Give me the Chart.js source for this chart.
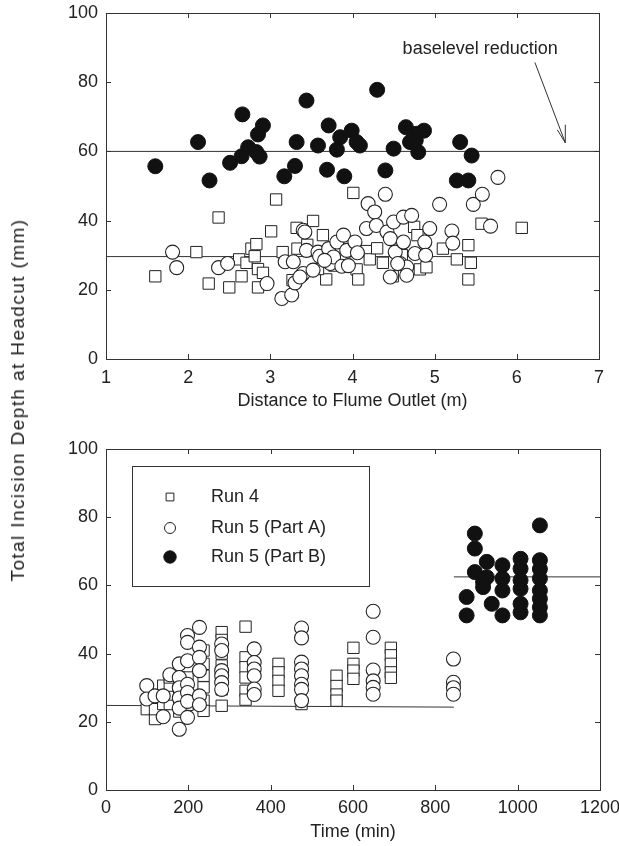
<!DOCTYPE html>
<html>
<head>
<meta charset="utf-8">
<script src="https://cdn.jsdelivr.net/npm/chart.js@4.4.0/dist/chart.umd.min.js"></script>
<style>
  body { margin: 0; background: #fff; width: 619px; height: 846px; position: relative; overflow: hidden; font-family: Arial, "Liberation Sans", sans-serif; }
  #topChart { position: absolute; left: 0; top: 0; }
  #bottomChart { position: absolute; left: 0; top: 420px; }
  #ylab { position: absolute; left: 18px; top: 400px; transform: translate(-50%, -50%) rotate(-90deg); white-space: nowrap; font-size: 19px; letter-spacing: 1.4px; color: #222; }
</style>
</head>
<body>
<canvas id="topChart" width="619" height="420"></canvas>
<canvas id="bottomChart" width="619" height="426"></canvas>
<div id="ylab">Total Incision Depth at Headcut (mm)</div>
<script>
// --- top panel: depth vs distance to flume outlet ---
var distTicks = [1, 2, 3, 4, 5, 6, 7];
var depthTicks = [0, 20, 40, 60, 80, 100];

var run4Dist = [1.60, 2.10, 2.37, 2.25, 2.50, 2.65, 2.62, 2.71, 2.77, 2.83, 2.81, 2.85, 2.91, 2.85, 3.01, 3.07, 3.15, 3.32, 3.33, 3.27,
  3.52, 4.01, 3.64, 3.68, 4.05, 4.07, 4.17, 4.21, 4.37, 4.49, 4.75, 4.79, 4.82, 4.90, 5.10, 5.27, 5.41, 5.44, 5.41, 5.57,
  6.06, 3.90, 3.78, 4.30, 4.60, 3.45, 3.58];
var run4DistDepth = [23.9, 30.9, 40.9, 21.8, 20.7, 23.9, 28.8, 27.8, 31.9, 33.2, 29.7, 26.0, 24.9, 20.7, 36.9, 46.1, 30.9, 37.9, 31.9, 22.8,
  39.9, 48.0, 35.8, 23.0, 25.9, 23.0, 31.2, 28.8, 27.8, 23.9, 38.2, 35.8, 25.9, 26.5, 31.9, 28.8, 32.9, 27.8, 23.0, 39.1,
  37.9, 29.0, 27.0, 32.0, 30.0, 33.0, 26.0];

var run5aDist = [1.81, 1.86, 2.37, 2.48, 2.96, 3.14, 3.26, 3.30, 3.38, 3.18, 3.28, 3.40, 3.44, 3.42, 3.40, 3.52, 3.58, 3.60, 3.71, 3.73,
  3.77, 3.81, 3.87, 3.89, 3.93, 4.03, 4.06, 4.17, 4.19, 4.27, 4.29, 4.40, 4.42, 4.46, 4.50, 4.52, 4.58, 4.62, 4.62, 4.66,
  4.72, 4.76, 4.88, 4.89, 4.94, 5.06, 5.21, 5.22, 5.47, 5.58, 5.68, 5.77, 4.46, 4.66, 4.55, 3.36, 3.66, 3.95];
var run5aDistDepth = [30.9, 26.4, 26.4, 27.6, 21.8, 17.5, 18.5, 22.0, 24.2, 28.1, 28.1, 37.2, 31.4, 36.7, 24.7, 25.7, 30.9, 29.7, 31.9, 27.6,
  29.5, 33.8, 26.8, 35.8, 31.4, 33.8, 30.7, 37.7, 44.9, 42.5, 38.6, 47.6, 36.7, 34.8, 39.6, 30.9, 27.6, 41.0, 33.8, 26.6,
  41.5, 30.5, 33.8, 30.0, 37.7, 44.7, 37.0, 33.5, 44.7, 47.6, 38.4, 52.5, 23.7, 24.2, 27.6, 23.7, 28.5, 27.0];

var run5bDist = [1.60, 2.12, 2.26, 2.51, 2.66, 2.65, 2.73, 2.83, 2.87, 2.85, 2.91, 3.17, 3.30, 3.32, 3.44, 3.58, 3.71, 3.69, 3.85, 3.81,
  3.90, 3.99, 4.05, 4.09, 4.30, 4.40, 4.50, 4.65, 4.70, 4.78, 4.87, 4.80, 4.77, 5.31, 5.45, 5.27, 5.41];
var run5bDistDepth = [55.7, 62.7, 51.6, 56.7, 70.7, 58.6, 61.2, 59.8, 58.5, 64.9, 67.5, 52.8, 55.8, 62.7, 74.7, 61.7, 67.5, 54.7, 64.1, 60.5,
  52.8, 66.0, 62.7, 61.7, 77.8, 54.5, 60.8, 67.0, 62.7, 65.1, 66.0, 59.8, 63.2, 62.7, 58.8, 51.6, 51.6];

var distFitX = [1, 7];
var distFitHigh = [60, 60];
var distFitLow = [29.6, 29.6];

// --- bottom panel: depth vs time ---
var timeTicks = [0, 200, 400, 600, 800, 1000, 1200];

var run4Time = [99, 119, 119, 139, 139, 155, 155, 155, 155, 178, 178, 178, 178, 198, 198, 198,
  237, 237, 237, 237, 237, 237, 281, 281, 281, 281, 281, 281, 281, 339, 339, 339, 339, 339, 339,
  419, 419, 419, 419, 475, 475, 475, 475, 560, 560, 560, 560, 601, 601, 601, 601, 692, 692, 692, 692, 692];
var run4TimeDepth = [23.7, 20.8, 23.7, 30.6, 25.2, 25.2, 28.0, 30.6, 33.0, 33.0, 29.0, 26.0, 23.0, 33.0, 29.1, 25.0,
  40.9, 37.0, 33.5, 30.1, 26.2, 23.2, 46.3, 44.0, 40.0, 36.5, 33.0, 29.5, 24.7, 47.9, 38.9, 36.0, 33.0, 29.1, 26.5,
  37.0, 34.5, 32.0, 29.1, 37.0, 33.0, 30.0, 25.2, 33.5, 30.5, 28.0, 26.2, 41.7, 37.0, 35.0, 32.6, 41.7, 39.5, 37.0, 34.5, 32.9];

var run5aTime = [99, 99, 119, 139, 139, 155, 178, 178, 178, 178, 178, 178, 198, 198, 198, 198, 198, 198, 198,
  227, 227, 227, 227, 227, 227, 281, 281, 281, 281, 281, 281, 360, 360, 360, 360, 360, 360,
  475, 475, 475, 475, 475, 475, 475, 475, 649, 649, 649, 649, 649, 649, 844, 844, 844, 844];
var run5aTimeDepth = [30.6, 26.7, 27.6, 27.6, 21.5, 33.8, 37.0, 33.0, 30.0, 27.0, 24.0, 17.8, 45.3, 43.3, 37.9, 31.0, 28.6, 26.0, 21.3,
  47.7, 41.9, 38.9, 35.0, 27.6, 25.0, 42.8, 40.9, 35.0, 33.5, 31.5, 29.5, 41.4, 37.4, 35.5, 33.5, 29.6, 28.0,
  47.5, 44.6, 37.5, 35.5, 33.5, 31.0, 29.5, 26.2, 52.4, 44.8, 35.2, 32.0, 30.1, 28.1, 38.4, 31.6, 30.0, 28.1];

var run5bTime = [876, 876, 896, 896, 896, 916, 916, 925, 925, 937, 963, 963, 963, 963,
  1007, 1007, 1007, 1007, 1007, 1007, 1054, 1054, 1054, 1054, 1054, 1054, 1054, 1054];
var run5bTimeDepth = [56.6, 51.2, 75.2, 70.8, 63.9, 61.0, 59.5, 66.9, 62.4, 54.6, 65.9, 62.0, 58.5, 51.2,
  67.8, 64.9, 61.5, 59.0, 54.6, 52.1, 77.6, 67.4, 64.8, 62.0, 58.5, 56.1, 53.6, 51.2];

var timeFitAX = [0, 845];
var timeFitAY = [24.8, 24.3];
var timeFitBX = [845, 1200];
var timeFitBY = [62.5, 62.5];

var seriesNames = ['Run 4', 'Run 5 (Part A)', 'Run 5 (Part B)'];

function pts(xs, ys) {
  var out = [];
  for (var i = 0; i < xs.length; i++) out.push({ x: xs[i], y: ys[i] });
  return out;
}

var ink = '#222';
var fontSpec = { family: 'Arial, "Liberation Sans", sans-serif', size: 18 };
var fontCss = '18px Arial, "Liberation Sans", sans-serif';

var styles = [
  { pointStyle: 'rect', pointRadius: 8, backgroundColor: '#fff', borderColor: ink, borderWidth: 1 },
  { pointStyle: 'circle', pointRadius: 7, backgroundColor: '#fff', borderColor: ink, borderWidth: 1.1 },
  { pointStyle: 'circle', pointRadius: 7.5, backgroundColor: '#111', borderColor: '#111', borderWidth: 1 }
];

function markerSet(name, xs, ys, st, order) {
  return {
    label: name, data: pts(xs, ys), order: order,
    pointStyle: st.pointStyle, pointRadius: st.pointRadius, pointHoverRadius: st.pointRadius,
    backgroundColor: st.backgroundColor, borderColor: st.borderColor, borderWidth: st.borderWidth
  };
}

function fitLine(xs, ys) {
  return { label: 'fit', data: pts(xs, ys), showLine: true, pointRadius: 0, borderColor: '#333', borderWidth: 1, order: 5 };
}

// box with inward ticks on all sides
var framePlugin = {
  id: 'frame',
  afterDatasetsDraw: function(chart) {
    var ctx = chart.ctx, a = chart.chartArea, x = chart.scales.x, y = chart.scales.y;
    ctx.save();
    ctx.strokeStyle = '#333';
    ctx.lineWidth = 1;
    ctx.strokeRect(Math.round(a.left) + 0.5, Math.round(a.top) + 0.5, Math.round(a.right - a.left), Math.round(a.bottom - a.top));
    ctx.beginPath();
    x.ticks.forEach(function(t) {
      var px = Math.round(x.getPixelForValue(t.value)) + 0.5;
      ctx.moveTo(px, a.bottom); ctx.lineTo(px, a.bottom - 5);
      ctx.moveTo(px, a.top); ctx.lineTo(px, a.top + 5);
    });
    y.ticks.forEach(function(t) {
      var py = Math.round(y.getPixelForValue(t.value)) + 0.5;
      ctx.moveTo(a.left, py); ctx.lineTo(a.left + 5, py);
      ctx.moveTo(a.right, py); ctx.lineTo(a.right - 5, py);
    });
    ctx.stroke();
    ctx.restore();
  }
};

function noPad(s) { s.paddingTop = 0; s.paddingBottom = 0; s.paddingLeft = 0; s.paddingRight = 0; }

function axes(xTicks, xTitle, xHeight, tickPad, titlePad, yWidth) {
  return {
    x: {
      type: 'linear', min: xTicks[0], max: xTicks[xTicks.length - 1],
      grid: { display: false, drawTicks: false }, border: { display: false },
      ticks: { stepSize: xTicks[1] - xTicks[0], color: ink, font: fontSpec, padding: tickPad, maxRotation: 0,
        callback: function(v) { return String(v); } },
      title: { display: true, text: xTitle, color: ink, font: fontSpec, padding: { top: 0, bottom: titlePad } },
      afterFit: function(s) { s.height = xHeight; noPad(s); }
    },
    y: {
      min: depthTicks[0], max: depthTicks[depthTicks.length - 1],
      grid: { display: false, drawTicks: false }, border: { display: false },
      ticks: { stepSize: depthTicks[1] - depthTicks[0], color: ink, font: fontSpec, padding: 8,
        callback: function(v) { return String(v); } },
      afterFit: function(s) { s.width = yWidth; noPad(s); }
    }
  };
}

// top chart annotation: "baselevel reduction" with arrow
var baselevelPlugin = {
  id: 'baselevel',
  afterDatasetsDraw: function(chart) {
    var ctx = chart.ctx, x = chart.scales.x, y = chart.scales.y;
    ctx.save();
    ctx.fillStyle = ink;
    ctx.font = fontCss;
    ctx.textBaseline = 'middle';
    ctx.fillText('baselevel reduction', x.getPixelForValue(4.61), y.getPixelForValue(89.5));
    var x0 = x.getPixelForValue(6.22), y0 = y.getPixelForValue(85.7);
    var x1 = x.getPixelForValue(6.59), y1 = y.getPixelForValue(62.5);
    ctx.strokeStyle = '#333';
    ctx.lineWidth = 1;
    ctx.beginPath();
    ctx.moveTo(x0, y0); ctx.lineTo(x1, y1);
    ctx.moveTo(x1, y1); ctx.lineTo(x1, y1 - 18);
    ctx.moveTo(x1, y1); ctx.lineTo(x1 - 8, y1 - 13);
    ctx.stroke();
    ctx.restore();
  }
};

// bottom chart legend box inside plot
var legendPlugin = {
  id: 'boxLegend',
  afterDatasetsDraw: function(chart) {
    var ctx = chart.ctx, a = chart.chartArea;
    var bx = a.left + 26, by = a.top + 17, bw = 237, bh = 120;
    ctx.save();
    ctx.fillStyle = '#fff';
    ctx.fillRect(bx, by, bw, bh);
    ctx.strokeStyle = '#333';
    ctx.lineWidth = 1;
    ctx.strokeRect(Math.round(bx) + 0.5, Math.round(by) + 0.5, bw, bh);
    var rows = [31, 62, 91];
    var sizes = [5.5, 5.5, 6.2];
    ctx.font = fontCss;
    ctx.textBaseline = 'middle';
    for (var i = 0; i < seriesNames.length; i++) {
      var st = styles[i];
      ctx.fillStyle = st.backgroundColor;
      ctx.strokeStyle = st.borderColor;
      ctx.lineWidth = 1;
      Chart.helpers.drawPoint(ctx, { pointStyle: st.pointStyle, radius: sizes[i], rotation: 0, borderWidth: 1 }, bx + 38, by + rows[i]);
      ctx.fillStyle = ink;
      ctx.fillText(seriesNames[i], bx + 79, by + rows[i]);
    }
    ctx.restore();
  }
};

new Chart(document.getElementById('topChart'), {
  type: 'scatter',
  data: {
    datasets: [
      markerSet(seriesNames[2], run5bDist, run5bDistDepth, styles[2], 1),
      markerSet(seriesNames[1], run5aDist, run5aDistDepth, styles[1], 2),
      markerSet(seriesNames[0], run4Dist, run4DistDepth, styles[0], 3),
      fitLine(distFitX, distFitHigh),
      fitLine(distFitX, distFitLow)
    ]
  },
  options: {
    responsive: false, animation: false, events: [],
    layout: { padding: { top: 13, right: 20, left: 0, bottom: 0 } },
    plugins: { legend: { display: false }, tooltip: { enabled: false } },
    scales: axes(distTicks, 'Distance to Flume Outlet (m)', 61, 8, 8, 106)
  },
  plugins: [framePlugin, baselevelPlugin]
});

new Chart(document.getElementById('bottomChart'), {
  type: 'scatter',
  data: {
    datasets: [
      markerSet(seriesNames[2], run5bTime, run5bTimeDepth, styles[2], 1),
      markerSet(seriesNames[1], run5aTime, run5aTimeDepth, styles[1], 2),
      markerSet(seriesNames[0], run4Time, run4TimeDepth, styles[0], 3),
      fitLine(timeFitAX, timeFitAY),
      fitLine(timeFitBX, timeFitBY)
    ]
  },
  options: {
    responsive: false, animation: false, events: [],
    layout: { padding: { top: 29, right: 19, left: 0, bottom: 0 } },
    plugins: { legend: { display: false }, tooltip: { enabled: false } },
    scales: axes(timeTicks, 'Time (min)', 56, 7, 3, 106)
  },
  plugins: [framePlugin, legendPlugin]
});
</script>
</body>
</html>
